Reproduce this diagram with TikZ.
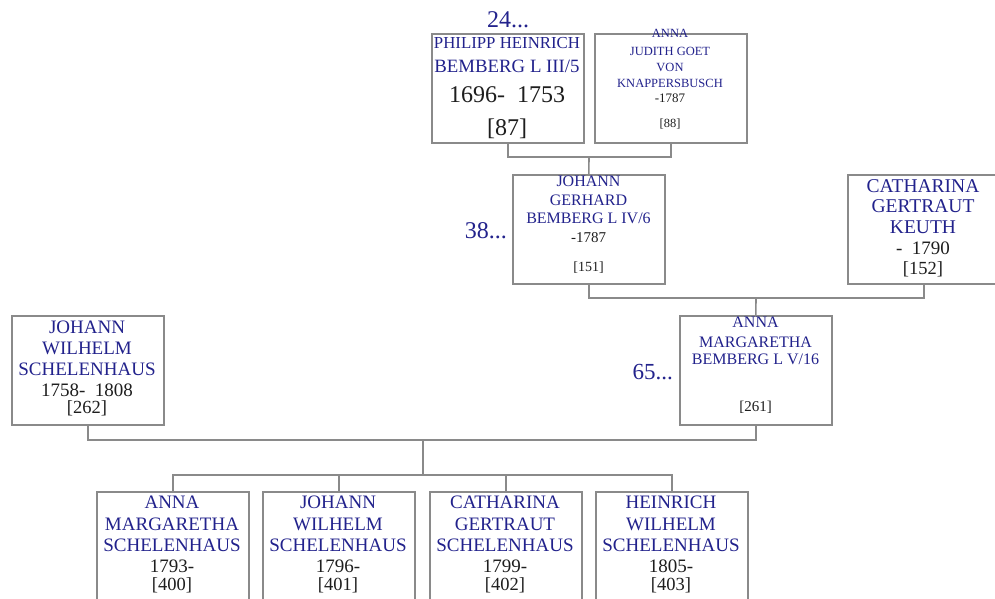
\documentclass[tikz,border=0pt]{standalone}
\usepackage{fontspec}
\setmainfont{Liberation Serif}
\definecolor{linegray}{HTML}{8A8A8A}
\definecolor{nameblue}{HTML}{22228C}
\definecolor{datebk}{HTML}{1E1E1E}
\newcommand\fsz[1]{\fontsize{#1}{#1}\selectfont}
\begin{document}
\begin{tikzpicture}[x=1pt,y=-1pt,
  pbox/.style={draw=linegray, line width=1.6pt, fill=white, minimum width=152pt, minimum height=109pt, anchor=north west, inner sep=0pt},
  conn/.style={draw=linegray, line width=1.6pt},
  nm/.style={text=nameblue, anchor=base, inner sep=0pt},
  dt/.style={text=datebk, anchor=base, inner sep=0pt},
  gen/.style={text=nameblue, inner sep=0pt}]
\useasboundingbox (0,0) rectangle (995,598);
% boxes
\node[pbox] (phil) at (431,33) {};
\node[pbox] (aj) at (594,33) {};
\node[pbox] (jg) at (512,174) {};
\node[pbox] (keuth) at (847,174) {};
\node[pbox] (jw) at (11,315) {};
\node[pbox] (am) at (679,315) {};
\node[pbox, minimum height=115pt] (c1) at (96,491) {};
\node[pbox, minimum height=115pt] (c2) at (262,491) {};
\node[pbox, minimum height=115pt] (c3) at (429,491) {};
\node[pbox, minimum height=115pt] (c4) at (595,491) {};
% connectors
\coordinate (m1) at (589,157);
\draw[conn] (phil.south) |- (m1) -| (aj.south);
\draw[conn] (m1) -- (jg.north);
\coordinate (m2) at (756,298);
\draw[conn] (jg.south) |- (m2) -| (keuth.south);
\draw[conn] (m2) -- (am.north);
\coordinate (m3) at (423,440);
\coordinate (m4) at (423,475);
\draw[conn] (jw.south) |- (m3) -| (am.south);
\draw[conn] (m3) -- (m4);
\draw[conn] (c1.north) -- (c1.north |- m4) -- (c4.north |- m4) -- (c4.north);
\draw[conn] (c2.north) -- (c2.north |- m4);
\draw[conn] (c3.north) -- (c3.north |- m4);
% generation labels
\node[gen, anchor=base, font=\fsz{24}] (g24) at (508,27) {24...};
\node[gen, anchor=base east, font=\fsz{24}] (g38) at (507,238) {38...};
\node[gen, anchor=base east, font=\fsz{23}] (g65) at (673,379) {65...};
% Philipp
\node[nm, font=\fsz{16.8}] (p1) at (507,48) {PHILIPP HEINRICH};
\node[nm, font=\fsz{18.8}] (p2) at (507,72) {BEMBERG L III/5};
\node[dt, font=\fsz{24}] (p3) at (507,102) {1696-~~1753};
\node[dt, font=\fsz{24}] (p4) at (507,135) {[87]};
% Anna Judith
\node[nm, font=\fsz{12.5}] (a1) at (670,37) {ANNA};
\node[nm, font=\fsz{12.5}] (a2) at (670,55) {JUDITH GOET};
\node[nm, font=\fsz{12.5}] (a3) at (670,71) {VON};
\node[nm, font=\fsz{12.5}] (a4) at (670,87) {KNAPPERSBUSCH};
\node[dt, font=\fsz{13}] (a5) at (670,102) {-1787};
\node[dt, font=\fsz{12.5}] (a6) at (670,127) {[88]};
% Johann Gerhard
\node[nm, font=\fsz{16}] (j1) at (588.5,186) {JOHANN};
\node[nm, font=\fsz{16}] (j2) at (588.5,205) {GERHARD};
\node[nm, font=\fsz{16}] (j3) at (588.5,223) {BEMBERG L IV/6};
\node[dt, font=\fsz{15}] (j4) at (588.5,242) {-1787};
\node[dt, font=\fsz{14}] (j5) at (588.5,271) {[151]};
% Catharina Keuth
\node[nm, font=\fsz{19.5}] (k1) at (923,192) {CATHARINA};
\node[nm, font=\fsz{19.5}] (k2) at (923,212) {GERTRAUT};
\node[nm, font=\fsz{19.5}] (k3) at (923,233) {KEUTH};
\node[dt, font=\fsz{19}] (k4) at (923,254) {-~~1790};
\node[dt, font=\fsz{18.5}] (k5) at (923,274) {[152]};
% Johann Wilhelm
\node[nm, font=\fsz{19}] (w1) at (87,333) {JOHANN};
\node[nm, font=\fsz{19}] (w2) at (87,354) {WILHELM};
\node[nm, font=\fsz{19}] (w3) at (87,375) {SCHELENHAUS};
\node[dt, font=\fsz{19}] (w4) at (87,396) {1758-~~1808};
\node[dt, font=\fsz{18.5}] (w5) at (87,413) {[262]};
% Anna Margaretha Bemberg
\node[nm, font=\fsz{16}] (b1) at (755.5,327) {ANNA};
\node[nm, font=\fsz{16}] (b2) at (755.5,347) {MARGARETHA};
\node[nm, font=\fsz{16}] (b3) at (755.5,364) {BEMBERG L V/16};
\node[dt, font=\fsz{15}] (b4) at (755.5,411) {[261]};
% children
\node[nm, font=\fsz{19}] (c1a) at (172,508) {ANNA};
\node[nm, font=\fsz{19}] (c1b) at (172,530) {MARGARETHA};
\node[nm, font=\fsz{19}] (c1c) at (172,551) {SCHELENHAUS};
\node[dt, font=\fsz{19}] (c1d) at (172,572) {1793-};
\node[dt, font=\fsz{18.5}] (c1e) at (172,590) {[400]};
\node[nm, font=\fsz{19}] (c2a) at (338,508) {JOHANN};
\node[nm, font=\fsz{19}] (c2b) at (338,530) {WILHELM};
\node[nm, font=\fsz{19}] (c2c) at (338,551) {SCHELENHAUS};
\node[dt, font=\fsz{19}] (c2d) at (338,572) {1796-};
\node[dt, font=\fsz{18.5}] (c2e) at (338,590) {[401]};
\node[nm, font=\fsz{19}] (c3a) at (505,508) {CATHARINA};
\node[nm, font=\fsz{19}] (c3b) at (505,530) {GERTRAUT};
\node[nm, font=\fsz{19}] (c3c) at (505,551) {SCHELENHAUS};
\node[dt, font=\fsz{19}] (c3d) at (505,572) {1799-};
\node[dt, font=\fsz{18.5}] (c3e) at (505,590) {[402]};
\node[nm, font=\fsz{19}] (c4a) at (671,508) {HEINRICH};
\node[nm, font=\fsz{19}] (c4b) at (671,530) {WILHELM};
\node[nm, font=\fsz{19}] (c4c) at (671,551) {SCHELENHAUS};
\node[dt, font=\fsz{19}] (c4d) at (671,572) {1805-};
\node[dt, font=\fsz{18.5}] (c4e) at (671,590) {[403]};
\end{tikzpicture}
\end{document}
